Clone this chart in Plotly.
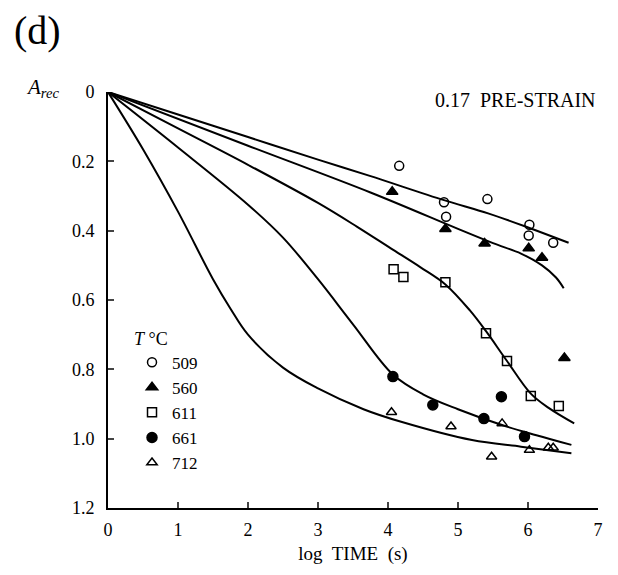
import plotly.graph_objects as go

# ---- data ----
temps = ["509", "560", "611", "661", "712"]

x509 = [4.16, 4.80, 4.83, 5.42, 6.02, 6.01, 6.36]
y509 = [0.213, 0.318, 0.360, 0.309, 0.383, 0.414, 0.435]

x560 = [4.06, 4.82, 5.38, 6.01, 6.20, 6.52]
y560 = [0.288, 0.395, 0.437, 0.451, 0.478, 0.767]

x611 = [4.08, 4.22, 4.82, 5.40, 5.70, 6.04, 6.44]
y611 = [0.511, 0.534, 0.549, 0.696, 0.776, 0.877, 0.906]

x661 = [4.07, 4.64, 5.37, 5.62, 5.95]
y661 = [0.821, 0.903, 0.942, 0.879, 0.994]

x712 = [4.05, 4.90, 5.48, 5.63, 6.02, 6.29, 6.36]
y712 = [0.924, 0.965, 1.052, 0.956, 1.033, 1.026, 1.026]

# fitted curves
cx509 = [0, 1, 2, 3, 3.74, 4.80, 5.43, 6.03, 6.58]
cy509 = [0, 0.065, 0.13, 0.195, 0.242, 0.312, 0.350, 0.393, 0.435]

cx560 = [0, 2, 3.75, 5.0, 5.5, 5.9, 6.2, 6.4, 6.51]
cy560 = [0, 0.155, 0.290, 0.395, 0.436, 0.466, 0.500, 0.535, 0.566]

cx611 = [0, 1, 2, 3, 3.56, 4.04, 4.46, 4.82, 5.17, 5.40, 5.70, 6.04, 6.30, 6.66]
cy611 = [0, 0.105, 0.21, 0.32, 0.389, 0.451, 0.505, 0.555, 0.630, 0.690, 0.776, 0.870, 0.912, 0.956]

cx661 = [0, 1, 2, 2.5, 3, 3.5, 4.07, 4.5, 5.0, 5.65, 6.12, 6.62]
cy661 = [0, 0.16, 0.325, 0.42, 0.54, 0.67, 0.815, 0.872, 0.915, 0.962, 0.990, 1.018]

cx712 = [0, 0.5, 1.0, 1.5, 1.75, 2.0, 2.5, 3.0, 3.65, 4.2, 5.2, 5.9, 6.62]
cy712 = [0, 0.165, 0.345, 0.54, 0.625, 0.70, 0.795, 0.855, 0.915, 0.952, 1.004, 1.023, 1.042]

xticks = [0, 1, 2, 3, 4, 5, 6, 7]
yticks = [0, 0.2, 0.4, 0.6, 0.8, 1.0, 1.2]
yticktext = ["0", "0.2", "0.4", "0.6", "0.8", "1.0", "1.2"]

FONT = "Liberation Serif, Times New Roman, serif"
PW, PH = 490, 416  # plot area size in px

fig = go.Figure()

for cx, cy in [(cx509, cy509), (cx560, cy560), (cx611, cy611), (cx661, cy661), (cx712, cy712)]:
    fig.add_trace(go.Scatter(x=cx, y=cy, mode="lines",
                             line=dict(color="black", width=2, shape="spline", smoothing=1.0),
                             showlegend=False, hoverinfo="skip"))

series = [
    (x509, y509, "circle-open", 9),
    (x560, y560, "triangle-up", 10),
    (x611, y611, "square-open", 9),
    (x661, y661, "circle", 10),
    (x712, y712, "triangle-up-open", 9),
]
for (sx, sy, sym, sz), name in zip(series, temps):
    fig.add_trace(go.Scatter(x=sx, y=sy, mode="markers", name=name,
                             marker=dict(symbol=sym, size=sz, color="black",
                                         line=dict(color="black", width=1.5))))

fig.update_layout(
    width=610, height=567,
    margin=dict(l=100, r=20, t=84, b=67),
    paper_bgcolor="white", plot_bgcolor="white",
    font=dict(family=FONT, size=18, color="black"),
    showlegend=True,
    legend=dict(x=0.049, y=0.449, xanchor="left", yanchor="top",
                bgcolor="rgba(0,0,0,0)", font=dict(size=17),
                title=dict(text="<i>T</i> °C", font=dict(size=18)),
                itemwidth=30, tracegroupgap=0),
    xaxis=dict(range=[0, 7], tickvals=xticks, ticks="inside", ticklen=6, tickwidth=1.5,
               showline=True, linecolor="black", linewidth=2, showgrid=False, zeroline=False,
               ticklabelstandoff=4, mirror=False,
               title=dict(text="log  TIME  (s)", font=dict(size=19), standoff=8)),
    yaxis=dict(range=[1.2, 0], tickvals=yticks, ticktext=yticktext, ticks="inside", ticklen=6,
               tickwidth=1.5, showline=True, linecolor="black", linewidth=2, showgrid=False,
               zeroline=False, ticklabelstandoff=8),
)

fig.add_annotation(text="(d)", xref="paper", yref="paper", x=-96/PW, y=1 + 61/PH,
                   xanchor="left", yanchor="middle", showarrow=False, font=dict(size=40))
fig.add_annotation(text="<i>A</i><sub><i>rec</i></sub>", xref="paper", yref="paper",
                   x=-84/PW, y=1 + 4/PH, xanchor="left", yanchor="middle",
                   showarrow=False, font=dict(size=21))
fig.add_annotation(text="0.17  PRE-STRAIN", xref="paper", yref="paper", x=1.0, y=1 - 8/PH,
                   xanchor="right", yanchor="middle", showarrow=False, font=dict(size=20))

fig.write_html("out.html")
